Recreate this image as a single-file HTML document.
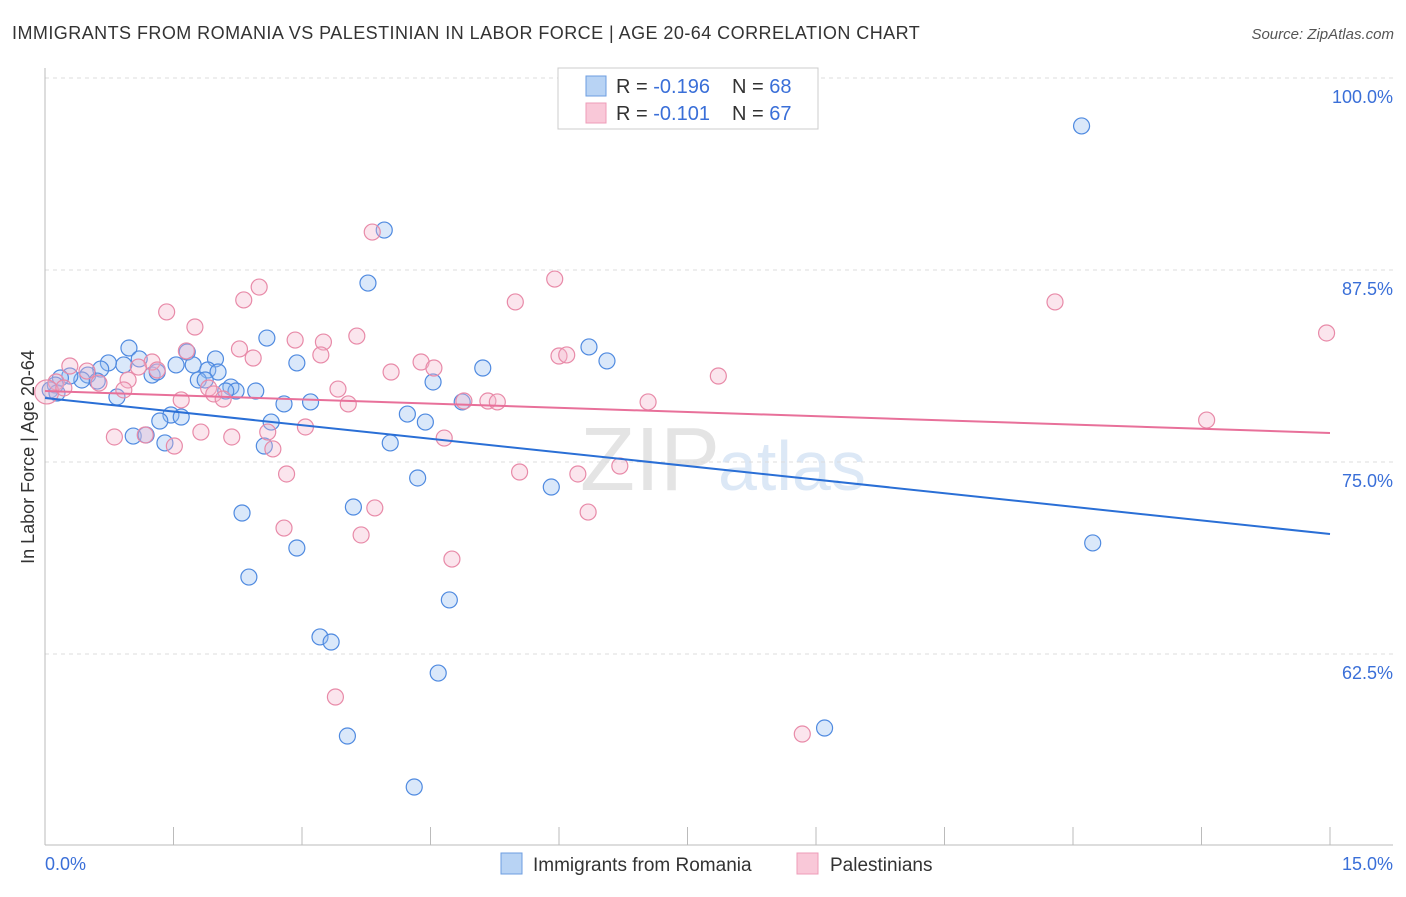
<!DOCTYPE html>
<html><head><meta charset="utf-8">
<style>
body{margin:0;background:#fff;font-family:"Liberation Sans",sans-serif;}
svg text{font-family:"Liberation Sans",sans-serif;}
</style></head>
<body>
<svg id="chart" width="1406" height="892" viewBox="0 0 1406 892">
<text x="12" y="39" font-size="18" letter-spacing="0.45" fill="#333">IMMIGRANTS FROM ROMANIA VS PALESTINIAN IN LABOR FORCE | AGE 20-64 CORRELATION CHART</text>
<text x="1394" y="39" font-size="15" fill="#555" font-style="italic" text-anchor="end">Source: ZipAtlas.com</text>
<text x="720" y="490" font-size="90" fill="#e4e4e4" text-anchor="end" font-family="Liberation Serif">ZIP</text>
<text x="718" y="490" font-size="70" fill="#dce8f6">atlas</text>
<g id="grid"></g>
<g id="axes"></g>
<g id="pts"></g>
<g id="lines"></g>
<text transform="translate(34,457) rotate(-90)" font-size="18" fill="#333" text-anchor="middle">In Labor Force | Age 20-64</text>
<text x="45" y="870" font-size="18" fill="#3a6fd8">0.0%</text>
<text x="1393" y="870" font-size="18" fill="#3a6fd8" text-anchor="end">15.0%</text>
<g>
<rect x="558" y="68" width="260" height="61" fill="#fff" stroke="#ccc"/>
<rect x="586" y="76" width="20" height="20" fill="#b8d3f4" stroke="#6d9ee0"/>
<rect x="586" y="103" width="20" height="20" fill="#f9c8d8" stroke="#ee9cb8"/>
<text x="616" y="93" font-size="20" fill="#333">R = <tspan fill="#3a6fd8">-0.196</tspan></text>
<text x="732" y="93" font-size="20" fill="#333">N = <tspan fill="#3a6fd8">68</tspan></text>
<text x="616" y="120" font-size="20" fill="#333">R = <tspan fill="#3a6fd8">-0.101</tspan></text>
<text x="732" y="120" font-size="20" fill="#333">N = <tspan fill="#3a6fd8">67</tspan></text>
</g>
<g>
<rect x="501" y="853" width="21" height="21" fill="#b8d3f4" stroke="#6d9ee0"/>
<text x="533" y="871" font-size="19" fill="#333">Immigrants from Romania</text>
<rect x="797" y="853" width="21" height="21" fill="#f9c8d8" stroke="#ee9cb8"/>
<text x="830" y="871" font-size="19" fill="#333">Palestinians</text>
</g>
</svg>
<script>
const yTicks=[100,87.5,75,62.5];
const yTickLabels=["100.0%","87.5%","75.0%","62.5%"];
const xTicks=[0,1.5,3,4.5,6,7.5,9,10.5,12,13.5,15];
const blueX=[12.10,3.96,3.77,2.59,6.35,6.56,5.11,2.94,0.98,1.10,0.92,0.74,1.53,1.66,1.73,1.99,1.90,2.02,1.25,1.31,0.65,0.50,0.43,0.29,0.18,0.12,0.06,0.14,0.61,0.84,1.79,1.87,2.17,2.23,2.11,2.46,4.53,1.47,1.59,1.34,1.03,1.18,1.40,2.79,3.10,4.23,4.44,4.87,2.64,2.56,4.03,4.35,5.91,3.60,2.30,2.94,12.23,2.38,4.72,3.21,3.34,4.59,9.10,3.53,4.31];
const blueY=[96.88,90.10,86.65,83.07,82.49,81.58,81.12,81.45,82.42,81.71,81.32,81.45,81.32,82.16,81.32,81.71,80.99,80.86,80.66,80.86,81.05,80.66,80.34,80.60,80.47,80.01,79.69,79.49,80.27,79.23,80.34,80.34,79.88,79.62,79.62,79.62,80.21,78.06,77.93,77.67,76.69,76.76,76.24,78.78,78.91,78.12,77.60,78.91,77.60,76.04,76.24,73.96,73.37,72.07,71.68,69.40,69.73,67.51,66.02,63.61,63.28,61.26,57.68,57.16,53.84];
const pinkX=[3.82,5.95,2.50,2.32,5.49,11.79,1.42,14.96,1.75,3.64,2.92,3.25,2.27,1.65,2.43,3.22,6.00,6.09,4.39,4.54,4.04,1.25,1.31,1.09,0.29,0.49,0.13,0.02,0.22,0.63,0.97,0.92,7.86,3.42,3.54,1.59,1.91,1.97,2.08,4.89,5.17,5.28,7.04,13.56,3.04,1.82,2.18,0.81,1.17,1.51,2.60,2.66,4.66,6.71,5.54,6.22,2.82,3.85,6.34,2.79,3.69,4.75,3.39,8.84];
const pinkY=[89.97,86.91,86.39,85.55,85.42,85.42,84.77,83.40,83.79,83.20,82.94,82.81,82.36,82.23,81.77,81.97,81.90,81.97,81.51,81.12,80.86,81.51,80.99,81.18,81.25,80.92,80.21,79.56,79.82,80.14,80.34,79.69,80.60,79.75,78.78,79.04,79.82,79.43,79.10,78.97,78.97,78.91,78.91,77.73,77.28,76.95,76.63,76.63,76.76,76.04,76.95,75.85,76.56,74.74,74.35,74.22,74.22,72.01,71.74,70.70,70.25,68.68,59.70,57.29];
const blueTrend=[79.17,70.31];
const pinkTrend=[79.62,76.89];
const NS="http://www.w3.org/2000/svg";
const xs=v=>45+v/15*1285;
const ys=v=>462-(v-75)*15.36;
function mk(t,a,p){const e=document.createElementNS(NS,t);for(const k in a)e.setAttribute(k,a[k]);p.appendChild(e);return e;}
const grid=document.getElementById('grid'),axes=document.getElementById('axes'),pts=document.getElementById('pts'),lines=document.getElementById('lines');
yTicks.forEach((v,i)=>{
 const l=mk('line',{x1:45,x2:1393,y1:ys(v),y2:ys(v),stroke:'#ddd','stroke-dasharray':'4,4'},grid);
 
 
 const t=mk('text',{x:1393,y:ys(v)+25,'font-size':18,fill:'#3a6fd8','text-anchor':'end'},grid);
 t.textContent=yTickLabels[i];
 
 
});
const ax=mk('line',{x1:45,x2:45,y1:68,y2:845,stroke:'#bbb'},axes);


const bx=mk('line',{x1:45,x2:1393,y1:845,y2:845,stroke:'#bbb'},axes);


xTicks.forEach(v=>{
 const t=mk('line',{x1:xs(v),x2:xs(v),y1:827,y2:845,stroke:'#bbb'},axes);
 
 
});
blueX.forEach((v,i)=>{
 const c=mk('circle',{cx:xs(v),cy:ys(blueY[i]),r:8,fill:'rgba(150,190,240,0.35)',stroke:'#4f8ae0','stroke-width':1.2},pts);
 
 
});
pinkX.forEach((v,i)=>{
 const c=mk('circle',{cx:xs(v),cy:ys(pinkY[i]),r:i==27?12:8,fill:'rgba(244,180,204,0.35)',stroke:'#e88aa8','stroke-width':1.2},pts);
 
 
});
const bl=mk('line',{x1:xs(0),x2:xs(15),y1:ys(blueTrend[0]),y2:ys(blueTrend[1]),stroke:'#2a6fd6','stroke-width':2},lines);


const pl=mk('line',{x1:xs(0),x2:xs(15),y1:ys(pinkTrend[0]),y2:ys(pinkTrend[1]),stroke:'#e8709a','stroke-width':2},lines);


</script>
</body></html>
